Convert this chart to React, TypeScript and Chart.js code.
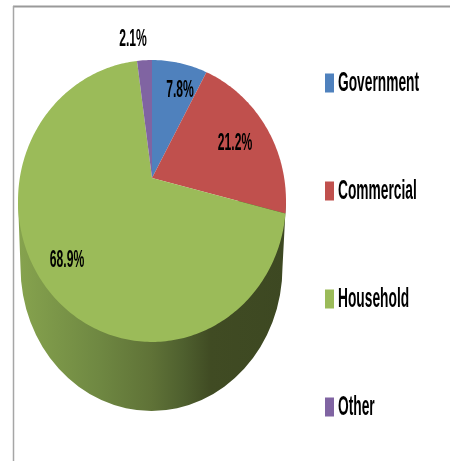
import React, { useEffect, useRef } from "react";
import { Chart, registerables } from "chart.js";

Chart.register(...registerables);

const categories = ["Government", "Commercial", "Household", "Other"];
const shares = [7.8, 21.2, 68.9, 2.1];
const colours = ["#4f81bd", "#c0504d", "#9bbb59", "#8064a2"];

const FONT = '"Liberation Sans Narrow", "Liberation Sans", sans-serif';

// Tilted disc: the apex sits above the middle of the ellipse, as in a perspective view.
const APEX = { x: 152, y: 178 };
const DISC = { a: 132.2, b: 137.2, p: -0.163 };
const RIM = { cx: 151.5, cy: 267, rx: 131, ry: 144 };
const RIM_TOP = 201;

// Label anchors, as offsets from the apex.
const labelOffsets = [
  { x: 28, y: -88 },
  { x: 83, y: -35 },
  { x: -85, y: 82 },
  { x: -19, y: -139 },
];

const LEGEND = { swatchX: 325, textX: 338, firstY: 83, step: 108 };

function project(angle: number) {
  const u = Math.cos(angle);
  const v = Math.sin(angle);
  const d = 1 + DISC.p * v;
  return { x: APEX.x + (DISC.a * u) / d, y: APEX.y + (DISC.b * v) / d };
}

function stretchedText(
  ctx: CanvasRenderingContext2D,
  text: string,
  x: number,
  y: number,
  size: number,
  align: CanvasTextAlign
) {
  ctx.save();
  ctx.translate(x, y);
  ctx.scale(0.81, 1.6);
  ctx.font = `bold ${size}px ${FONT}`;
  ctx.fillStyle = "#000000";
  ctx.textAlign = align;
  ctx.textBaseline = "middle";
  ctx.fillText(text, 0, 0);
  ctx.restore();
}

const tiltedPie = {
  id: "tiltedPie",
  beforeDatasetDraw(chart: any) {
    const ctx: CanvasRenderingContext2D = chart.ctx;
    const arcs = chart.getDatasetMeta(0).data;

    // Outer frame: a heavier top rule and a thin left rule
    ctx.save();
    ctx.strokeStyle = "#9a9a9a";
    ctx.lineWidth = 2;
    ctx.beginPath();
    ctx.moveTo(13, 6.5);
    ctx.lineTo(450, 6.5);
    ctx.stroke();
    ctx.strokeStyle = "#a6a6a6";
    ctx.lineWidth = 1.5;
    ctx.beginPath();
    ctx.moveTo(13.5, 461);
    ctx.lineTo(13.5, 6);
    ctx.stroke();

    // Side wall of the disc
    const wall = ctx.createLinearGradient(18, 0, 286, 0);
    wall.addColorStop(0, "#86a34e");
    wall.addColorStop(0.3, "#6f8842");
    wall.addColorStop(0.5, "#5f7237");
    wall.addColorStop(0.62, "#4e5f2e");
    wall.addColorStop(0.72, "#404b23");
    wall.addColorStop(1, "#3d4822");
    ctx.fillStyle = wall;
    ctx.beginPath();
    ctx.moveTo(18, RIM_TOP);
    ctx.lineTo(RIM.cx - RIM.rx, RIM.cy);
    ctx.ellipse(RIM.cx, RIM.cy, RIM.rx, RIM.ry, 0, Math.PI, 0, true);
    ctx.lineTo(286, RIM_TOP);
    ctx.closePath();
    ctx.fill();

    // Top face, one path per arc element
    arcs.forEach((arc: any) => {
      ctx.fillStyle = arc.options.backgroundColor;
      ctx.beginPath();
      ctx.moveTo(APEX.x, APEX.y);
      const steps = Math.max(8, Math.ceil((arc.endAngle - arc.startAngle) * 60));
      for (let i = 0; i <= steps; i++) {
        const t = arc.startAngle + ((arc.endAngle - arc.startAngle) * i) / steps;
        const pt = project(t);
        ctx.lineTo(pt.x, pt.y);
      }
      ctx.closePath();
      ctx.fill();
    });
    ctx.restore();

    // Percentage labels
    shares.forEach((value, i) => {
      stretchedText(
        ctx,
        `${value.toFixed(1)}%`,
        APEX.x + labelOffsets[i].x,
        APEX.y + labelOffsets[i].y,
        15,
        "center"
      );
    });

    // Legend column
    chart.data.labels.forEach((label: string, i: number) => {
      const y = LEGEND.firstY + LEGEND.step * i;
      ctx.fillStyle = colours[i];
      ctx.fillRect(LEGEND.swatchX, y - 9.5, 9, 19);
      stretchedText(ctx, label, LEGEND.textX, y, 17, "left");
    });

    return false;
  },
};

export default function App() {
  const ref = useRef<HTMLCanvasElement | null>(null);

  useEffect(() => {
    document.body.style.margin = "0";
    const chart = new Chart(ref.current as HTMLCanvasElement, {
      type: "pie",
      data: {
        labels: categories,
        datasets: [{ data: shares, backgroundColor: colours, borderWidth: 0 }],
      },
      options: {
        responsive: false,
        animation: false,
        plugins: {
          legend: { display: false },
          tooltip: { enabled: false },
        },
      },
      plugins: [tiltedPie],
    } as any);
    return () => chart.destroy();
  }, []);

  return <canvas ref={ref} width={450} height={461} style={{ display: "block" }} />;
}
